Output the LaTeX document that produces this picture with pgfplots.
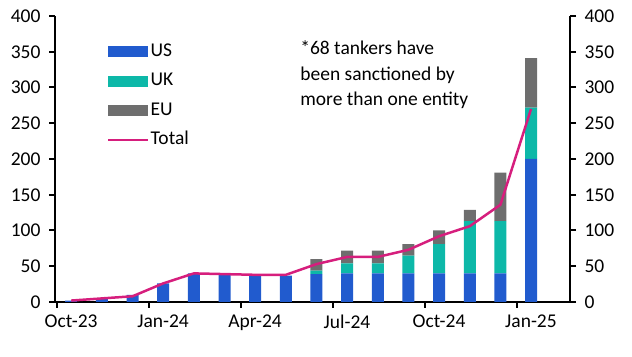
\documentclass[border=0pt]{standalone}
\usepackage{fontspec}
\setmainfont{Carlito}
\usepackage{pgfplots}
\pgfplotsset{compat=1.18}
\definecolor{cUS}{RGB}{33,91,206}
\definecolor{cUK}{RGB}{13,184,168}
\definecolor{cEU}{RGB}{110,110,110}
\definecolor{cTot}{RGB}{214,30,125}
\newcommand{\fs}{\fontsize{19.5bp}{25.5bp}\selectfont}
\pgfplotstableread{
x US UK EU Total
0 2 0 0 2
1 5 0 0 5
2 10 0 0 8
3 26 0 0 26
4 40 0 0 40
5 38 0 0 39
6 37 0 0 38
7 37 0 0 38
8 39 5 16 53
9 40 14 18 63
10 40 14 18 63
11 40 25 16 73
12 40 41 19 92
13 40 73 16 106
14 40 73 68 136
15 200 72 69 270
}\data
\begin{document}
\begin{tikzpicture}
\pgfplotsset{
  myax/.style={width=515bp, height=286bp, scale only axis,
    xmin=-0.53, xmax=16.27, ymin=0, ymax=400, ytick={0,50,...,400},
    tick align=outside, major tick length=6bp,
    every tick/.style={black, line width=2bp},
    axis line style={black, line width=2.4bp},
    tick label style={font=\fs},
    /pgf/number format/assume math mode=true, clip=false},
}
\begin{axis}[myax, axis x line*=bottom, axis y line*=left,
  ybar stacked, bar width=12bp,
  xtick={-0.46,2.54,5.54,8.54,11.54,14.54},
  xticklabels={Oct-23,Jan-24,Apr-24,Jul-24,Oct-24,Jan-25},
  xticklabel style={xshift=14bp, yshift=-3bp},
  yticklabel style={xshift=-5bp},
  legend cell align=left,
  legend style={at={(rel axis cs:0.101,0.909)}, anchor=north west, draw=none, fill=none,
    font=\fs, inner sep=0pt, row sep=10.5bp,
    nodes={inner sep=1bp, text height=13bp, text depth=4bp},
    /tikz/every even column/.append style={column sep=9bp}},
]
\addplot[fill=cUS, draw=none, legend image code/.code={\fill[cUS] (0bp,-5.5bp) rectangle (40bp,5.5bp);}] table[x=x,y=US]{\data};
\addlegendentry{US}
\addplot[fill=cUK, draw=none, legend image code/.code={\fill[cUK] (0bp,-5.5bp) rectangle (40bp,5.5bp);}] table[x=x,y=UK]{\data};
\addlegendentry{UK}
\addplot[fill=cEU, draw=none, legend image code/.code={\fill[cEU] (0bp,-5.5bp) rectangle (40bp,5.5bp);}] table[x=x,y=EU]{\data};
\addlegendentry{EU}
\addlegendimage{legend image code/.code={\draw[cTot, line width=2.5bp] (0bp,0bp) -- (40bp,0bp);}}
\addlegendentry{Total}
\node[anchor=north west, align=left, inner sep=0pt, font=\fs] at (rel axis cs:0.476,0.913)
  {*68 tankers have\\been sanctioned by\\more than one entity};
\end{axis}
\begin{axis}[myax, axis x line=none, axis y line*=right, yticklabel style={xshift=5bp}]
\addplot[cTot, line width=2.5bp, mark=none] table[x=x,y=Total]{\data};
\end{axis}
\path ([shift={(-55bp,-55bp)}]current axis.south west) rectangle ([shift={(62bp,16bp)}]current axis.north east);
\end{tikzpicture}
\end{document}
